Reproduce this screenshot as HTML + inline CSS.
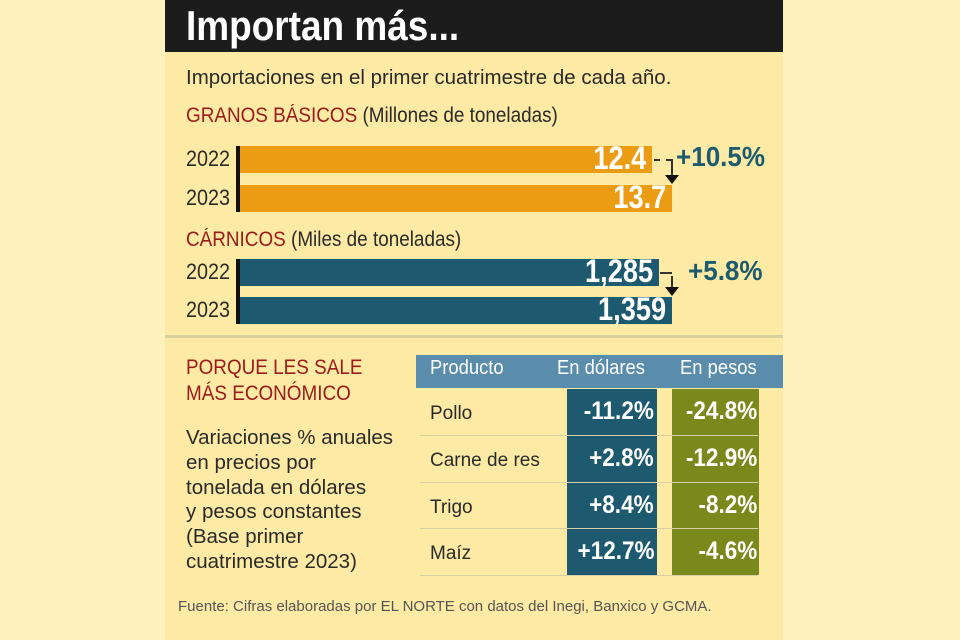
<!DOCTYPE html>
<html><head><meta charset="utf-8"><style>
*{margin:0;padding:0;box-sizing:border-box}
body{width:960px;height:640px;background:#fdf1bd;position:relative;overflow:hidden;font-family:"Liberation Sans",sans-serif;color:#2a2a2a}
.p{position:absolute;white-space:nowrap}
.panel{position:absolute;left:165px;top:0;width:618px;height:640px;background:#fdeaa5}
.hdr{position:absolute;left:165px;top:0;width:618px;height:52px;background:#1c1c1c}
.bar{position:absolute;left:240px;height:27px}
.o{background:#ec9c12}.t{background:#1d5a6f}
.bv{position:absolute;right:6px;top:-6px;color:#fff;font-weight:bold;font-size:32px;transform:scaleX(.85);transform-origin:right}
.yr{font-size:22px;transform:scaleX(.9);transform-origin:left}
.red{color:#9a1b1b}
.cell{position:absolute;color:#fff;font-weight:bold;font-size:25px;text-align:right;transform:scaleX(.9);transform-origin:right}
.row{position:absolute;font-size:19px;left:430px}
.ln{position:absolute;left:420px;width:338px;height:1px;background:#d8cfa6}
</style></head><body>
<div class="panel"></div>
<div class="hdr"></div>
<div class="p" style="left:186px;top:2px;color:#fff;font-weight:bold;font-size:42px;transform:scaleX(.88);transform-origin:left">Importan más...</div>
<div class="p" style="left:186px;top:66px;font-size:20.5px">Importaciones en el primer cuatrimestre de cada año.</div>
<div class="p" style="left:186px;top:104px;font-size:21px;transform:scaleX(.9);transform-origin:left"><span class="red">GRANOS BÁSICOS</span> (Millones de toneladas)</div>
<div class="p" style="left:236px;top:146px;width:4px;height:66px;background:#111"></div>
<div class="p yr" style="left:186px;top:146px">2022</div>
<div class="p yr" style="left:186px;top:185px">2023</div>
<div class="bar o" style="top:146px;width:412px"><span class="bv">12.4</span></div>
<div class="bar o" style="top:185px;width:432px"><span class="bv">13.7</span></div>
<div class="p" style="left:654px;top:159px;width:18px;border-top:2px dashed #333"></div>
<div class="p" style="left:671px;top:159px;width:2px;height:17px;background:#333"></div>
<div class="p" style="left:665px;top:175px;border-left:7px solid transparent;border-right:7px solid transparent;border-top:9px solid #111"></div>
<div class="p" style="left:676px;top:141px;color:#1d5a6f;font-weight:bold;font-size:28px;transform:scaleX(.93);transform-origin:left">+10.5%</div>
<div class="p" style="left:186px;top:228px;font-size:21px;transform:scaleX(.9);transform-origin:left"><span class="red">CÁRNICOS</span> (Miles de toneladas)</div>
<div class="p" style="left:236px;top:259px;width:4px;height:65px;background:#111"></div>
<div class="p yr" style="left:186px;top:259px">2022</div>
<div class="p yr" style="left:186px;top:297px">2023</div>
<div class="bar t" style="top:259px;width:419px"><span class="bv">1,285</span></div>
<div class="bar t" style="top:297px;width:432px"><span class="bv">1,359</span></div>
<div class="p" style="left:660px;top:272px;width:12px;border-top:2px dashed #333"></div>
<div class="p" style="left:671px;top:276px;width:2px;height:12px;background:#333"></div>
<div class="p" style="left:665px;top:287px;border-left:7px solid transparent;border-right:7px solid transparent;border-top:9px solid #111"></div>
<div class="p" style="left:688px;top:255px;color:#1d5a6f;font-weight:bold;font-size:28px;transform:scaleX(.93);transform-origin:left">+5.8%</div>
<div class="p" style="left:165px;top:335px;width:618px;height:3px;background:#d9cf9c"></div>
<div class="p red" style="left:186px;top:355px;font-size:21px;line-height:26px;transform:scaleX(.9);transform-origin:left">PORQUE LES SALE<br>MÁS ECONÓMICO</div>
<div class="p" style="left:186px;top:426px;font-size:20.5px;line-height:24.8px">Variaciones % anuales<br>en precios por<br>tonelada en dólares<br>y pesos constantes<br>(Base primer<br>cuatrimestre 2023)</div>
<div class="p" style="left:416px;top:355px;width:367px;height:33px;background:#5a8cab"></div>
<div class="p" style="left:430px;top:357px;color:#fff;font-size:20px;transform:scaleX(.92);transform-origin:left">Producto</div>
<div class="p" style="left:557px;top:357px;color:#fff;font-size:20px;transform:scaleX(.92);transform-origin:left">En dólares</div>
<div class="p" style="left:680px;top:357px;color:#fff;font-size:20px;transform:scaleX(.92);transform-origin:left">En pesos</div>
<div class="p" style="left:567px;top:389px;width:90px;height:186px;background:#1d5a6f"></div>
<div class="p" style="left:672px;top:389px;width:87px;height:186px;background:#7a891c"></div>
<div class="ln" style="top:435px"></div><div class="ln" style="top:482px"></div><div class="ln" style="top:528px"></div><div class="ln" style="top:575px"></div>
<div class="row" style="top:403px">Pollo</div>
<div class="row" style="top:450px">Carne de res</div>
<div class="row" style="top:497px">Trigo</div>
<div class="row" style="top:543px">Maíz</div>
<div class="cell" style="right:306px;top:397px">-11.2%</div>
<div class="cell" style="right:306px;top:444px">+2.8%</div>
<div class="cell" style="right:306px;top:491px">+8.4%</div>
<div class="cell" style="right:306px;top:537px">+12.7%</div>
<div class="cell" style="right:203px;top:397px">-24.8%</div>
<div class="cell" style="right:203px;top:444px">-12.9%</div>
<div class="cell" style="right:203px;top:491px">-8.2%</div>
<div class="cell" style="right:203px;top:537px">-4.6%</div>
<div class="p" style="left:178px;top:598px;font-size:15px;color:#555">Fuente: Cifras elaboradas por EL NORTE con datos del Inegi, Banxico y GCMA.</div>
</body></html>
